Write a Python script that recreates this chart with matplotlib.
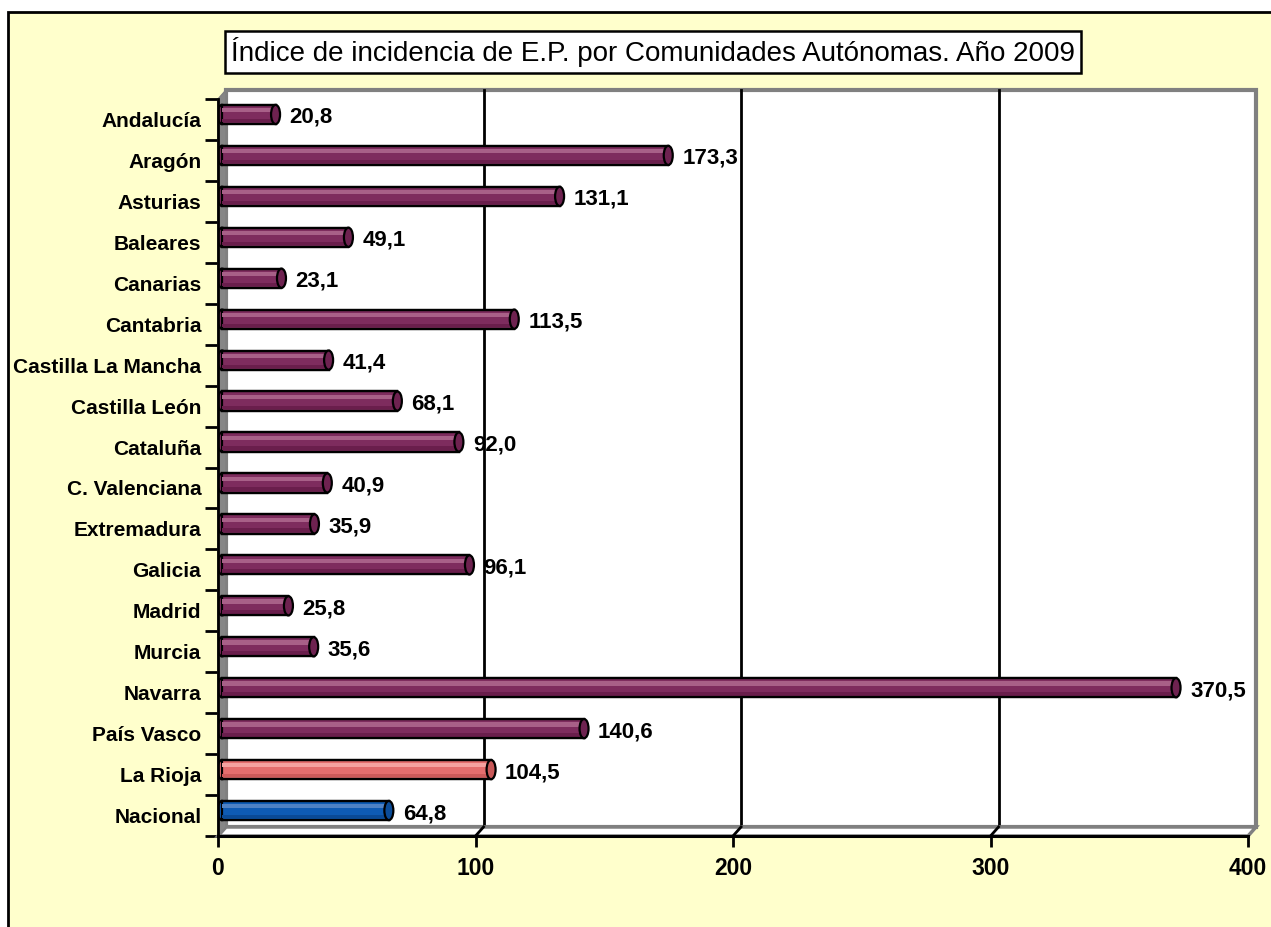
import matplotlib
matplotlib.use("Agg")
import matplotlib.pyplot as plt
from matplotlib.patches import Rectangle, Polygon, Ellipse

categories = ["Andalucía", "Aragón", "Asturias", "Baleares", "Canarias", "Cantabria",
              "Castilla La Mancha", "Castilla León", "Cataluña", "C. Valenciana",
              "Extremadura", "Galicia", "Madrid", "Murcia", "Navarra", "País Vasco",
              "La Rioja", "Nacional"]
values = [20.8, 173.3, 131.1, 49.1, 23.1, 113.5, 41.4, 68.1, 92.0, 40.9,
          35.9, 96.1, 25.8, 35.6, 370.5, 140.6, 104.5, 64.8]
value_labels = ["20,8", "173,3", "131,1", "49,1", "23,1", "113,5", "41,4", "68,1", "92,0",
                "40,9", "35,9", "96,1", "25,8", "35,6", "370,5", "140,6", "104,5", "64,8"]
x_ticks = [0, 100, 200, 300, 400]
title = "Índice de incidencia de E.P. por Comunidades Autónomas. Año 2009"

# colour schemes (base, highlight, dark, cap)
purple = ("#7E2C5E", "#A86088", "#6A1E4C", "#6E2250")
salmon = ("#E46E6E", "#F4A2A0", "#CC5A5A", "#C85858")
blue = ("#0E5BB4", "#4F82C4", "#0A4A96", "#0B4C98")
bar_styles = [purple] * 16 + [salmon, blue]

FONT = ["Liberation Sans", "DejaVu Sans"]
plt.rcParams["font.family"] = FONT

W, H = 1271, 927
fig = plt.figure(figsize=(W / 100, H / 100), dpi=100, facecolor="white")

# outer yellow frame
fig.patches.append(Rectangle((8 / W, -0.05), 1.2, 1 - 12 / H + 0.05, transform=fig.transFigure,
                             fc="#FFFFCC", ec="black", lw=2, zorder=-10))

# axes (front plane)
x0, x1 = 218, 1248
y0, y1 = 99, 836
ax = fig.add_axes([x0 / W, 1 - y1 / H, (x1 - x0) / W, (y1 - y0) / H])
ax.set_zorder(1)
ax.set_xlim(0, 400)
ax.set_ylim(len(categories) - 0.5, -0.5)
ax.patch.set_visible(False)

px_x = 400 / (x1 - x0)              # data units per pixel (x)
px_y = len(categories) / (y1 - y0)  # data units per pixel (y)
DX = 8 * px_x
DY = 9 * px_y
ytop, ybot = -0.5, len(categories) - 0.5

# back wall
ax.add_patch(Rectangle((DX, ytop - DY), 400, ybot - ytop, fc="white", ec="#808080",
                       lw=3, zorder=1, clip_on=False))
# gridlines on back wall
for v in x_ticks[1:-1]:
    ax.plot([v + DX, v + DX], [ytop - DY, ybot - DY], color="black", lw=2, zorder=2, clip_on=False)
# floor
ax.add_patch(Polygon([(0, ybot), (400, ybot), (400 + DX, ybot - DY), (DX, ybot - DY)],
                     closed=True, fc="white", ec="#808080", lw=2.5, zorder=3, clip_on=False))
for v in x_ticks[1:-1]:
    ax.plot([v + DX, v], [ybot - DY, ybot], color="black", lw=2, zorder=3.5, clip_on=False)
# left wall
ax.add_patch(Polygon([(0, ytop), (DX, ytop - DY), (DX, ybot - DY), (0, ybot)],
                     closed=True, fc="#868686", ec="#808080", lw=1, zorder=4, clip_on=False))

# bars (cylinders)
BX = 4 * px_x
BY = 5 * px_y
bh = 0.47
cap_w = 9 * px_x
for i, (v, st) in enumerate(zip(values, bar_styles)):
    base, hi, dark, cap = st
    yc = i - BY
    ax.barh(yc, v, left=BX, height=bh, color=base, edgecolor="black", lw=1.6, zorder=5)
    ax.barh(yc - bh * 0.22, v, left=BX, height=bh * 0.22, color=hi, lw=0, zorder=5.2)
    ax.barh(yc + bh * 0.32, v, left=BX, height=bh * 0.18, color=dark, lw=0, zorder=5.2)
    # left rounded end
    ax.add_patch(Ellipse((BX, yc), cap_w, bh, fc=base, ec="black", lw=1.6, zorder=4.9))
    # re-outline top/bottom edges over the stripes
    ax.plot([BX, BX + v], [yc - bh / 2, yc - bh / 2], color="black", lw=1.6, zorder=5.3)
    ax.plot([BX, BX + v], [yc + bh / 2, yc + bh / 2], color="black", lw=1.6, zorder=5.3)
    # right end cap
    ax.add_patch(Ellipse((BX + v, yc), cap_w, bh, fc=cap, ec="black", lw=1.6, zorder=5.5))
    ax.annotate(value_labels[i], (v, i), xytext=(18, 2), textcoords="offset pixels",
                ha="left", va="center", fontsize=16, fontweight="bold", zorder=6,
                annotation_clip=False)

# spines
for s in ["top", "right"]:
    ax.spines[s].set_visible(False)
ax.spines["left"].set_color("black")
ax.spines["left"].set_linewidth(2)
ax.spines["bottom"].set_color("black")
ax.spines["bottom"].set_linewidth(2.2)
ax.spines["left"].set_zorder(7)
ax.spines["bottom"].set_zorder(7)

# x ticks
ax.set_xticks(x_ticks)
ax.set_xticklabels([str(t) for t in x_ticks], fontsize=16.5, fontweight="bold")
ax.tick_params(axis="x", length=8, width=2, pad=7, color="black")

# y ticks: boundaries as major ticks, labels at centres as minor
ax.set_yticks([i + 0.5 for i in range(-1, len(categories))])
ax.set_yticklabels([])
ax.tick_params(axis="y", which="major", length=9.5, width=2, color="black")
ax.set_yticks(range(len(categories)), minor=True)
ax.set_yticklabels(categories, minor=True, fontsize=15, fontweight="bold")
ax.tick_params(axis="y", which="minor", length=0, pad=12)

# title box
fig.text(653 / W, 1 - 52 / H, title, ha="center", va="center", fontsize=20,
         bbox=dict(boxstyle="square,pad=0.22", fc="white", ec="black", lw=1.8))

fig.savefig("out.png", dpi=100, facecolor=fig.get_facecolor())
